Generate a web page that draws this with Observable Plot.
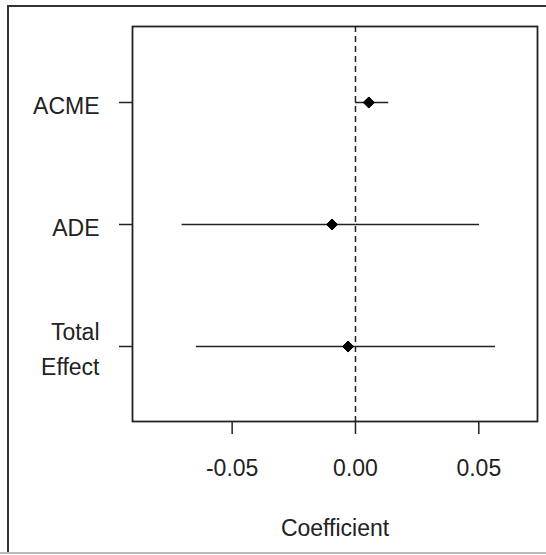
<!DOCTYPE html>
<html>
<head>
<meta charset="utf-8">
<script src="https://cdn.jsdelivr.net/npm/d3@7"></script>
<script src="https://cdn.jsdelivr.net/npm/@observablehq/plot@0.6"></script>
<style>
  html, body { margin: 0; padding: 0; background: #fff; }
  #wrap { position: relative; width: 546px; height: 555px; overflow: hidden; }
  #frameTL { position: absolute; left: 7px; top: 5px; width: 560px; height: 547px;
             border-left: 2px solid #333; border-top: 2px solid #333; box-sizing: border-box; }
  #frameB { position: absolute; left: 0; top: 552px; width: 546px; height: 2px; background: #bbb; }
  #chart { position: absolute; left: 0; top: 0; }
</style>
</head>
<body>
<div id="wrap">
  <div id="frameTL"></div>
  <div id="frameB"></div>
  <div id="chart"></div>
</div>
<script>
const terms = ["ACME", "ADE", "Total Effect"];
const termLabels = ["ACME", "ADE", "Total\nEffect"];
const estimates = [0.0054, -0.0095, -0.0030];
const lowers = [0.0000, -0.0703, -0.0645];
const uppers = [0.0135, 0.0503, 0.0568];
const xTicks = [-0.05, 0, 0.05];
const xTitle = "Coefficient";

const rows = terms.map((t, i) => ({term: t, est: estimates[i], lo: lowers[i], hi: uppers[i]}));
const labelOf = new Map(terms.map((t, i) => [t, termLabels[i]]));

const chart = Plot.plot({
  width: 546,
  height: 555,
  marginLeft: 132,
  marginRight: 9,
  marginTop: 26,
  marginBottom: 134,
  style: {fontFamily: "'Liberation Sans', Arial, sans-serif", fontSize: "23px", color: "#222", background: "transparent"},
  x: {domain: [-0.0904, 0.0738]},
  y: {type: "point", domain: terms, padding: 0.61},
  marks: [
    Plot.ruleX([0], {stroke: "#222", strokeWidth: 1.5, strokeDasharray: "6,4"}),
    Plot.ruleY(rows, {y: "term", x1: "lo", x2: "hi", stroke: "#222", strokeWidth: 1.6}),
    Plot.dot(rows, {x: "est", y: "term", symbol: "diamond2", r: 5, fill: "#000", stroke: "#000", strokeWidth: 1}),
    Plot.frame({stroke: "#222", strokeWidth: 1.8}),
    Plot.axisX({ticks: xTicks, tickFormat: d => d.toFixed(2), tickSize: 13, tickPadding: 25,
                strokeWidth: 1.5, label: null, fontSize: 23}),
    Plot.axisY({tickSize: 13, tickPadding: 20, tickFormat: d => labelOf.get(d),
                strokeWidth: 1.5, label: null, fontSize: 23, lineHeight: 1.5}),
    Plot.text([xTitle], {text: d => d, frameAnchor: "bottom", dy: 107, fontSize: 23, fill: "#222", lineAnchor: "middle"})
  ]
});
document.getElementById("chart").appendChild(chart);
</script>
</body>
</html>
